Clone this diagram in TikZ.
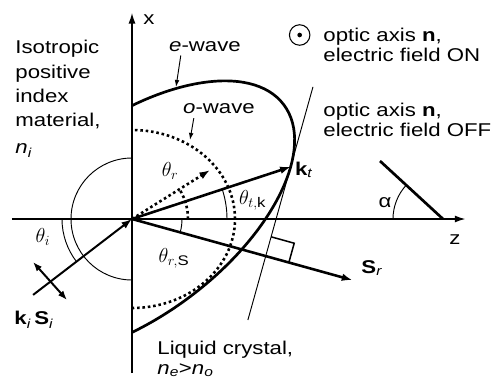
\documentclass[tikz,border=0pt]{standalone}
\usepackage{fontspec}
\setmainfont{Liberation Sans}[FakeStretch=1.2]
\usetikzlibrary{arrows.meta,calc}

\begin{document}
\begin{tikzpicture}[
  font=\fontsize{15.8}{17}\selectfont,
  lbl/.style={inner sep=1pt},
  txt/.style={inner sep=1pt, align=left, anchor=north west},
  ang/.style={inner sep=0pt, font=\fontsize{17}{17}\selectfont},
  axis/.style={line width=1.1pt, -{Latex[length=9pt,width=6pt]}},
  thinl/.style={line width=0.8pt},
  wave/.style={line width=2.3pt},
  owave/.style={line width=2.2pt, dash pattern=on 2.2pt off 2.4pt},
  ray/.style={line width=2.2pt, -{Latex[length=9pt,width=6.5pt]}},
  pointer/.style={line width=0.8pt, -{Latex[length=6pt,width=4pt]}}]
\useasboundingbox (-3.96,-4.86) rectangle (10.83,6.57);
\coordinate (O) at (0,0);
\coordinate (zL) at (-3.6,0);
\coordinate (zR) at (10.0,0);
\coordinate (xB) at (0,-4.62);
\coordinate (xT) at (0,6.18);
\begin{scope}
  \clip (0,-5) rectangle (7,6.5);
  \draw[wave, rotate=37] (O) ellipse [x radius=5.7, y radius=2.91];
  \draw[owave] (O) ellipse [x radius=3.09, y radius=2.67];
\end{scope}
\draw[axis] (zL) -- (zR);
\draw[axis] (xB) -- (xT);
\node[lbl] (zlab) at (9.69,-0.63) {z};
\node[lbl] (xlab) at (0.51,5.97) {x};
\foreach \r/\a/\b in {1.83/90/270, 2.1/180/217.5, 2.85/0/18.2, 1.5/0/-15.5}
  \draw[thinl] (\a:\r) arc[start angle=\a, end angle=\b, radius=\r];
\draw[owave] (0:1.68) arc[start angle=0, end angle=32.1, radius=1.68];
\coordinate (inc) at (217.5:3.74);
\coordinate (kt) at (18.2:5.01);
\coordinate (thr) at (32.1:2.76);
\coordinate (sr) at (-15.5:6.86);
\draw[ray, line width=1.7pt] (inc) -- (O);
\foreach \p in {kt, sr}
  \draw[ray] (O) -- (\p);
\draw[owave, -{Latex[length=9pt,width=6.5pt]}] (O) -- (thr);
\coordinate (polA) at (-2.97,-1.29);
\coordinate (polB) at (-1.95,-2.43);
\draw[line width=1.7pt, {Latex[length=8pt,width=6pt]}-{Latex[length=8pt,width=6pt]}] (polA) -- (polB);
\coordinate (tanA) at ($(kt)+(74.4:2.49)$);
\coordinate (tanB) at ($(kt)+(254.4:4.77)$);
\draw[thinl] (tanA) -- (tanB);
\coordinate (ra) at (intersection of O--sr and tanA--tanB);
\draw[line width=1.3pt, shift={(ra)}, rotate=-15.5] (0.72,0) -- (0.72,0.6) -- (0,0.6);
\coordinate (offA) at (7.44,1.74);
\coordinate (offB) at (9.33,0);
\draw[wave] (offA) -- (offB);
\draw[thinl] ($(offB)+(180:1.5)$) arc[start angle=180, end angle=137.3, radius=1.5];
\node[draw, circle, line width=0.9pt, minimum size=0.615cm, inner sep=0pt] (on) at (5.03,5.52) {};
\fill (on.center) circle (0.07);
\node[txt] (onlab) at (5.70,5.76) {optic axis \textbf{n},\\electric field ON};
\node[txt] (offlab) at (5.70,3.51) {optic axis \textbf{n},\\electric field OFF};
\node[txt, font=\fontsize{15.8}{20.8}\selectfont] (iso) at (-3.54,5.40)
  {Isotropic\\positive\\index\\material,\\[2pt]\textit{n}\textsubscript{\textit{i}}};
\node[txt] (lc) at (0.72,-3.62)
  {Liquid crystal,\\\textit{n}\textsubscript{\textit{e}}>\textit{n}\textsubscript{\textit{o}}};
\node[ang] (thil) at (-2.67,-0.54) {$\theta_i$};
\node[ang] (thrl) at (1.14,1.44) {$\theta_r$};
\node[ang] (thtk) at (3.6,0.57) {$\theta_{t,\mathrm{k}}$};
\node[ang] (thrs) at (1.23,-1.17) {$\theta_{r,\mathrm{S}}$};
\node[lbl] (alab) at (7.59,0.48) {α};
\node[lbl] (ktlab) at (5.16,1.47) {\textbf{k}\textsubscript{\textit{t}}};
\node[lbl] (srlab) at (7.2,-1.47) {\textbf{S}\textsubscript{\textit{r}}};
\node[lbl] (kslab) at (-2.94,-3.03) {\textbf{k}\textsubscript{\textit{i}}\,\textbf{S}\textsubscript{\textit{i}}};
\node[lbl] (elab) at (2.19,5.18) {\textit{e}-wave};
\node[lbl] (olab) at (2.61,3.3) {\textit{o}-wave};
\coordinate (etip) at (1.32,3.96);
\coordinate (otip) at (1.74,2.37);
\draw[pointer] ([xshift=0.39cm, yshift=-0.08cm]elab.south west) -- (etip);
\draw[pointer] ([xshift=0.36cm, yshift=-0.08cm]olab.south west) -- (otip);
\end{tikzpicture}
\end{document}
